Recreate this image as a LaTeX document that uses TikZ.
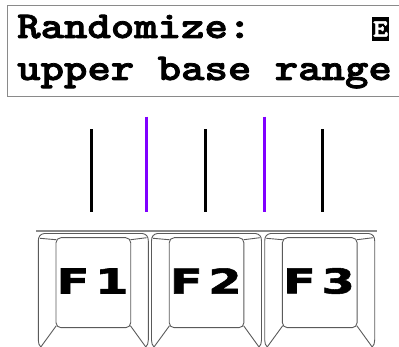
\documentclass[tikz,border=0pt]{standalone}
\usepackage{fontspec}
\usetikzlibrary{calc}
\newfontfamily\keyfont{DejaVu Sans}[BoldFeatures={FakeBold=1.5}]
\newfontfamily\lcdfont{lmmonolt10-bold.otf}[FakeBold=2]
\definecolor{lcdgray}{HTML}{8A8A8A}
\definecolor{keygray}{HTML}{5A5A5A}
\definecolor{markviolet}{HTML}{8000FF}
\begin{document}
\begin{tikzpicture}[x=1pt,y=-1pt,
  lcdbox/.style={draw=lcdgray, line width=1.1pt},
  lcdtext/.style={anchor=base west, inner sep=0pt, font=\fontsize{44.6}{50}\selectfont\lcdfont},
  hilitebox/.style={fill=black},
  hilitetext/.style={text=white, inner sep=0pt, font=\fontsize{40}{42}\selectfont\lcdfont},
  markblack/.style={draw=black, line width=3pt},
  markpurple/.style={draw=markviolet, line width=3pt},
  sepline/.style={draw=lcdgray, line width=1.4pt},
  keyline/.style={draw=keygray, line width=0.9pt},
  keyface/.style={draw=keygray, line width=0.9pt, rounded corners=5pt, inner sep=0pt, minimum width=74.7pt, minimum height=90pt},
  keylabel/.style={inner sep=0pt, font=\fontsize{34.3}{36}\selectfont\keyfont\bfseries}
]
\useasboundingbox (0,0) rectangle (399,347);
\clip (0,0) rectangle (399,347);

% LCD display
\draw[lcdbox] (7.5,5.5) rectangle (430,96.5);
\node[lcdtext] (line1) at (17,38) {\scalebox{1}[0.85]{Randomize:}};
\node[lcdtext] (line2) at (17,80) {\scalebox{1}[0.85]{upper base range}};
\coordinate (eboxnw) at (372,17);
\coordinate (eboxse) at (389,41);
\fill[hilitebox] (eboxnw) rectangle (eboxse);
\node[hilitetext] (etext) at (380.5,29) {\scalebox{0.72}[0.62]{E}};

% marker lines
\coordinate (b1t) at (91.7,129.3);  \coordinate (b1b) at (91.7,212.3);
\coordinate (p1t) at (146.7,116.7); \coordinate (p1b) at (146.7,212.3);
\coordinate (b2t) at (205.7,129.3); \coordinate (b2b) at (205.7,212.3);
\coordinate (p2t) at (264,116.7);   \coordinate (p2b) at (264,212.3);
\coordinate (b3t) at (322.3,129.3); \coordinate (b3b) at (322.3,212.3);
\draw[markblack] (b1t) -- (b1b);
\draw[markpurple] (p1t) -- (p1b);
\draw[markblack] (b2t) -- (b2b);
\draw[markpurple] (p2t) -- (p2b);
\draw[markblack] (b3t) -- (b3b);

% separator above keys
\coordinate (sepL) at (36,231);
\coordinate (sepR) at (377,231);
\draw[sepline] (sepL) -- (sepR);

% keys
\foreach \L/\n in {38.3/1, 151.5/2, 264.7/3} {
  \draw[keyline] ({\L+2.5},347) .. controls ({\L+0.8},345.5) and ({\L},343) .. ({\L},340)
    -- ({\L},241) .. controls ({\L},236.5) and ({\L+2},234) .. ({\L+6},233.5)
    -- ({\L+104},233.5) .. controls ({\L+108},234) and ({\L+110},236.5) .. ({\L+110},241)
    -- ({\L+110},340) .. controls ({\L+110},343) and ({\L+109.2},345.5) .. ({\L+107.5},347);
  \node[keyface] (face\n) at ({\L+55.05},282.7) {};
  \node[keylabel] (lab\n) at ({\L+54.3},281) {\scalebox{1.4}[1]{F\kern4pt \n}};
  \coordinate (tl\n) at ({\L+1.7},238.3);
  \coordinate (tr\n) at ({\L+108.4},237.7);
  \coordinate (bl\n) at ({\L+2.5},347);
  \coordinate (br\n) at ({\L+107.5},347);
  \draw[keyline] (tl\n) -- ($(face\n.north west)+(0.8,2.5)$);
  \draw[keyline] (tr\n) -- ($(face\n.north east)+(-0.8,2.5)$);
  \draw[keyline] (bl\n) -- ($(face\n.south west)+(0.8,-2.5)$);
  \draw[keyline] (br\n) -- ($(face\n.south east)+(-0.8,-2.5)$);
}
\end{tikzpicture}
\end{document}
